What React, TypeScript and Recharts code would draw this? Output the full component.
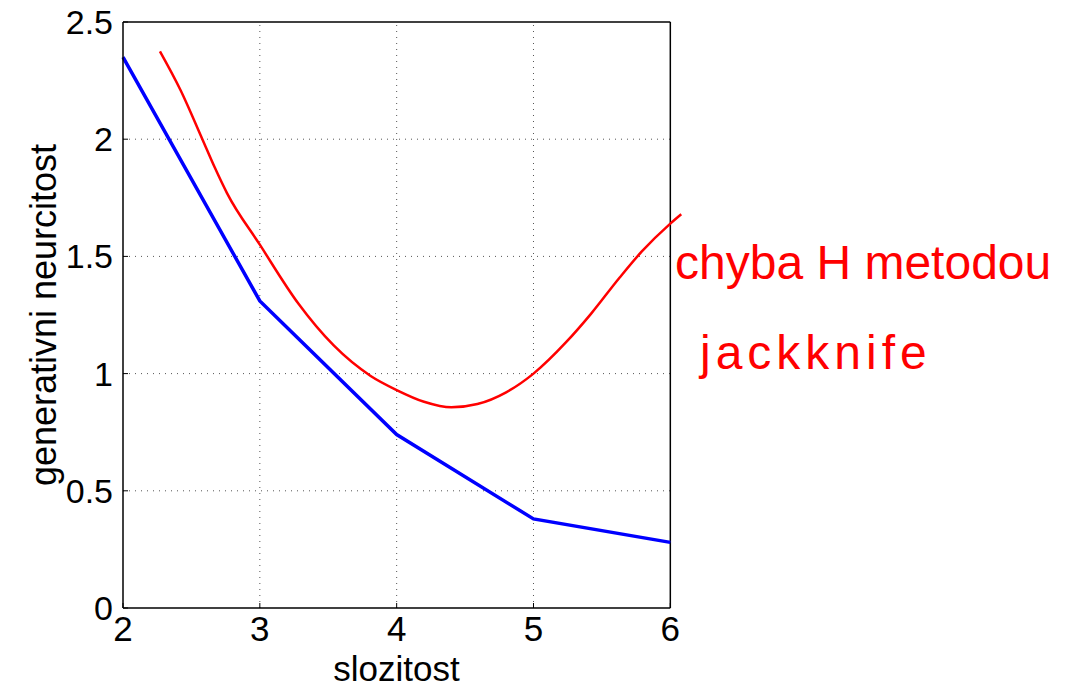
import React from "react";
import {Label, Line, LineChart, ReferenceLine, XAxis, YAxis} from "recharts";

// blue: plotted series
const complexity = [2, 3, 4, 5, 6];
const uncertainty = [2.35, 1.31, 0.74, 0.38, 0.28];

// red: hand drawn "jackknife" estimate
const redX = [2.27, 2.42, 2.58, 2.67, 2.76, 3.0, 3.28, 3.54, 3.81, 4.0, 4.2, 4.4, 4.59, 4.8, 5.0, 5.24, 5.42, 5.63, 5.79, 6.0, 6.08];
const redY = [2.375, 2.21, 2.0, 1.88, 1.77, 1.55, 1.3, 1.12, 0.99, 0.93, 0.88, 0.856, 0.87, 0.92, 1.0, 1.135, 1.255, 1.41, 1.52, 1.64, 1.68];

const xTicks = [2, 3, 4, 5, 6];
const yTicks = [0, 0.5, 1, 1.5, 2, 2.5];

const blueData = complexity.map((x, i) => ({x, y: uncertainty[i]}));
const redData = redX.map((x, i) => ({x, y: redY[i]}));

const font = "'Liberation Sans', Arial, sans-serif";
const gridColor = "#555";

const App: React.FC = () => {
  return (
      <div style={{position: "absolute", left: 0, top: 0, width: 1074, height: 688, background: "#fff"}}>
        <LineChart width={1074} height={688} margin={{top: 22, right: 390, bottom: 0, left: 0}}>
          {/* dotted grid, kept inside the box (x domain runs a bit past 6 for the red curve) */}
          {xTicks.slice(1, -1).map(v => (
              <ReferenceLine key={"gx" + v} segment={[{x: v, y: 0}, {x: v, y: 2.5}]} stroke={gridColor} strokeDasharray="1 5"/>
          ))}
          {yTicks.slice(1, -1).map(v => (
              <ReferenceLine key={"gy" + v} segment={[{x: 2, y: v}, {x: 6, y: v}]} stroke={gridColor} strokeDasharray="1 5"/>
          ))}
          <XAxis dataKey="x" type="number" domain={[2, 6.1]} ticks={xTicks} interval={0}
                 axisLine={false} tickLine={{stroke: "#000"}} tickSize={-5} tickMargin={13} height={80}
                 tick={{fontSize: 35, fontFamily: font, fill: "#000"}}>
            <Label value="slozitost" position="insideBottom" offset={7.5} dx={-7}
                   style={{fontSize: 35, fontFamily: font, fill: "#000"}}/>
          </XAxis>
          <YAxis type="number" domain={[0, 2.5]} ticks={yTicks} interval={0} width={123}
                 axisLine={{stroke: "#000", strokeWidth: 1.5}} tickLine={{stroke: "#000"}} tickSize={-5} tickMargin={15}
                 tick={{fontSize: 34, fontFamily: font, fill: "#000"}}>
            <Label value="generativni neurcitost" position="insideLeft" angle={-90} offset={43}
                   style={{fontSize: 36, fontFamily: font, fill: "#000", textAnchor: "middle"}}/>
          </YAxis>
          <ReferenceLine segment={[{x: 2, y: 0}, {x: 6, y: 0}]} stroke="#000" strokeWidth={1.5}/>
          <ReferenceLine segment={[{x: 2, y: 2.5}, {x: 6, y: 2.5}]} stroke="#000" strokeWidth={1.5}/>
          <ReferenceLine segment={[{x: 6, y: 0}, {x: 6, y: 2.5}]} stroke="#000" strokeWidth={1.5}/>
          <Line data={blueData} dataKey="y" type="linear" stroke="#0000ff" strokeWidth={3.5}
                dot={false} isAnimationActive={false}/>
          <Line data={redData} dataKey="y" type="monotone" stroke="#ff0000" strokeWidth={2.5}
                dot={false} isAnimationActive={false}/>
        </LineChart>
        <div style={{position: "absolute", left: 675, top: 239, fontSize: 48, lineHeight: 1,
          fontFamily: font, color: "#ff0000", whiteSpace: "nowrap"}}>
          chyba H metodou
        </div>
        <div style={{position: "absolute", left: 700, top: 329, fontSize: 48, lineHeight: 1,
          fontFamily: font, color: "#ff0000", whiteSpace: "nowrap", letterSpacing: 5}}>
          jackknife
        </div>
      </div>
  );
};

export default App;
